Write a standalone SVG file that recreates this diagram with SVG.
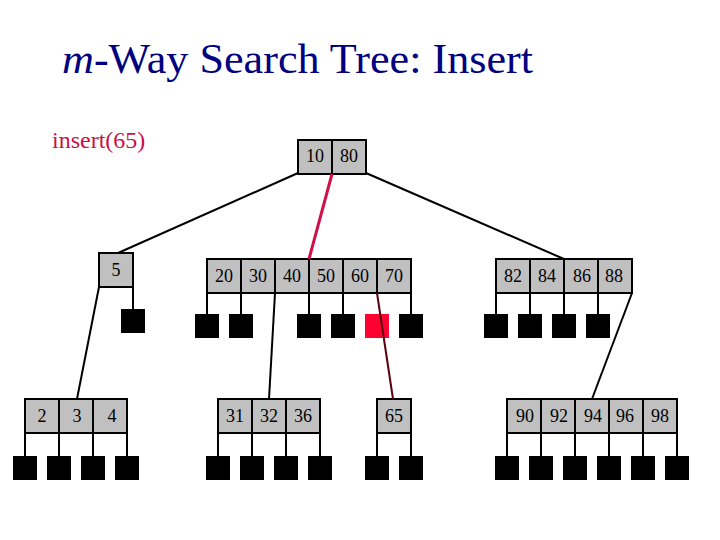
<svg xmlns="http://www.w3.org/2000/svg" width="720" height="540" viewBox="0 0 720 540">
<style>
.cell{fill:#c0c0c0;stroke:#000;stroke-width:2}
.ext{fill:#000}
.ext-red{fill:#ff0033}
.lbl{font-family:"Liberation Serif","Times New Roman",serif;font-size:18px;fill:#000;text-anchor:middle}
.edge{stroke:#000;stroke-width:2;fill:none}
.stub{stroke:#000;stroke-width:2}
</style>
<rect width="720" height="540" fill="#fff"/>
<text x="62" y="73" font-family="'Liberation Serif','Times New Roman',serif" font-size="43" fill="#000080" textLength="471" lengthAdjust="spacingAndGlyphs"><tspan font-style="italic">m</tspan>-Way Search Tree: Insert</text>
<text x="52" y="148" font-family="'Liberation Serif','Times New Roman',serif" font-size="24" fill="#c8104a">insert(65)</text>

<g id="node-root">
  <rect class="cell" x="298" y="140" width="34" height="34"/>
  <rect class="cell" x="332" y="140" width="34" height="34"/>
  <text class="lbl" x="315" y="162">10</text>
  <text class="lbl" x="349" y="162">80</text>
</g>

<g id="node-5">
  <rect class="cell" x="99" y="253" width="34" height="34"/>
  <text class="lbl" x="116" y="276">5</text>
</g>

<g id="node-mid">
  <rect class="cell" x="207" y="259" width="34" height="34"/>
  <rect class="cell" x="241" y="259" width="34" height="34"/>
  <rect class="cell" x="275" y="259" width="34" height="34"/>
  <rect class="cell" x="309" y="259" width="34" height="34"/>
  <rect class="cell" x="343" y="259" width="34" height="34"/>
  <rect class="cell" x="377" y="259" width="34" height="34"/>
  <text class="lbl" x="224" y="282">20</text>
  <text class="lbl" x="258" y="282">30</text>
  <text class="lbl" x="292" y="282">40</text>
  <text class="lbl" x="326" y="282">50</text>
  <text class="lbl" x="360" y="282">60</text>
  <text class="lbl" x="394" y="282">70</text>
</g>

<g id="node-right">
  <rect class="cell" x="496" y="259" width="34" height="34"/>
  <rect class="cell" x="530" y="259" width="34" height="34"/>
  <rect class="cell" x="564" y="259" width="34" height="34"/>
  <rect class="cell" x="598" y="259" width="34" height="34"/>
  <text class="lbl" x="513" y="282">82</text>
  <text class="lbl" x="547" y="282">84</text>
  <text class="lbl" x="582" y="282">86</text>
  <text class="lbl" x="614" y="282">88</text>
</g>

<g id="node-234">
  <rect class="cell" x="25" y="399" width="34" height="34"/>
  <rect class="cell" x="59" y="399" width="34" height="34"/>
  <rect class="cell" x="93" y="399" width="34" height="34"/>
  <text class="lbl" x="42" y="422">2</text>
  <text class="lbl" x="77" y="422">3</text>
  <text class="lbl" x="112" y="422">4</text>
</g>

<g id="node-313236">
  <rect class="cell" x="218" y="399" width="34" height="34"/>
  <rect class="cell" x="252" y="399" width="34" height="34"/>
  <rect class="cell" x="286" y="399" width="34" height="34"/>
  <text class="lbl" x="235" y="422">31</text>
  <text class="lbl" x="269" y="422">32</text>
  <text class="lbl" x="303" y="422">36</text>
</g>

<g id="node-65">
  <rect class="cell" x="377" y="399" width="34" height="34"/>
  <text class="lbl" x="394" y="422">65</text>
</g>

<g id="node-9098">
  <rect class="cell" x="507" y="399" width="34" height="34"/>
  <rect class="cell" x="541" y="399" width="34" height="34"/>
  <rect class="cell" x="575" y="399" width="34" height="34"/>
  <rect class="cell" x="609" y="399" width="34" height="34"/>
  <rect class="cell" x="643" y="399" width="34" height="34"/>
  <text class="lbl" x="525" y="422">90</text>
  <text class="lbl" x="559" y="422">92</text>
  <text class="lbl" x="593" y="422">94</text>
  <text class="lbl" x="625" y="422">96</text>
  <text class="lbl" x="660" y="422">98</text>
</g>

<g id="ext-node5">
  <rect class="ext" x="121" y="309" width="24" height="24"/>
</g>
<g id="ext-mid">
  <rect class="ext" x="195" y="314" width="24" height="24"/>
  <rect class="ext" x="229" y="314" width="24" height="24"/>
  <rect class="ext" x="297" y="314" width="24" height="24"/>
  <rect class="ext" x="331" y="314" width="24" height="24"/>
  <rect class="ext-red" x="365" y="314" width="24" height="24"/>
  <rect class="ext" x="399" y="314" width="24" height="24"/>
</g>
<g id="ext-right">
  <rect class="ext" x="484" y="314" width="24" height="24"/>
  <rect class="ext" x="518" y="314" width="24" height="24"/>
  <rect class="ext" x="552" y="314" width="24" height="24"/>
  <rect class="ext" x="586" y="314" width="24" height="24"/>
</g>
<g id="ext-234">
  <rect class="ext" x="13" y="456" width="24" height="24"/>
  <rect class="ext" x="47" y="456" width="24" height="24"/>
  <rect class="ext" x="81" y="456" width="24" height="24"/>
  <rect class="ext" x="115" y="456" width="24" height="24"/>
</g>
<g id="ext-313236">
  <rect class="ext" x="206" y="456" width="24" height="24"/>
  <rect class="ext" x="240" y="456" width="24" height="24"/>
  <rect class="ext" x="274" y="456" width="24" height="24"/>
  <rect class="ext" x="308" y="456" width="24" height="24"/>
</g>
<g id="ext-65">
  <rect class="ext" x="365" y="456" width="24" height="24"/>
  <rect class="ext" x="399" y="456" width="24" height="24"/>
</g>
<g id="ext-9098">
  <rect class="ext" x="495" y="456" width="24" height="24"/>
  <rect class="ext" x="529" y="456" width="24" height="24"/>
  <rect class="ext" x="563" y="456" width="24" height="24"/>
  <rect class="ext" x="597" y="456" width="24" height="24"/>
  <rect class="ext" x="631" y="456" width="24" height="24"/>
  <rect class="ext" x="665" y="456" width="24" height="24"/>
</g>

<g id="connectors">
  <line class="edge" x1="298" y1="173" x2="118" y2="253"/>
  <line x1="332" y1="174" x2="309" y2="259" stroke="#d0104a" stroke-width="3"/>
  <line class="edge" x1="366" y1="173" x2="564" y2="259"/>
  <line class="edge" x1="99" y1="287" x2="77" y2="399"/>
  <line class="edge" x1="275" y1="293" x2="269" y2="399"/>
  <line x1="377" y1="293" x2="393" y2="399" stroke="#5a0010" stroke-width="2"/>
  <line class="edge" x1="632" y1="293" x2="592" y2="399"/>
  <line class="stub" x1="133" y1="287" x2="133" y2="309"/>
  <line class="stub" x1="207" y1="293" x2="207" y2="314"/>
  <line class="stub" x1="241" y1="293" x2="241" y2="314"/>
  <line class="stub" x1="309" y1="293" x2="309" y2="314"/>
  <line class="stub" x1="343" y1="293" x2="343" y2="314"/>
  <line class="stub" x1="411" y1="293" x2="411" y2="314"/>
  <line class="stub" x1="496" y1="293" x2="496" y2="314"/>
  <line class="stub" x1="530" y1="293" x2="530" y2="314"/>
  <line class="stub" x1="564" y1="293" x2="564" y2="314"/>
  <line class="stub" x1="598" y1="293" x2="598" y2="314"/>
  <line class="stub" x1="25" y1="433" x2="25" y2="456"/>
  <line class="stub" x1="59" y1="433" x2="59" y2="456"/>
  <line class="stub" x1="93" y1="433" x2="93" y2="456"/>
  <line class="stub" x1="127" y1="433" x2="127" y2="456"/>
  <line class="stub" x1="218" y1="433" x2="218" y2="456"/>
  <line class="stub" x1="252" y1="433" x2="252" y2="456"/>
  <line class="stub" x1="286" y1="433" x2="286" y2="456"/>
  <line class="stub" x1="320" y1="433" x2="320" y2="456"/>
  <line class="stub" x1="377" y1="433" x2="377" y2="456"/>
  <line class="stub" x1="411" y1="433" x2="411" y2="456"/>
  <line class="stub" x1="507" y1="433" x2="507" y2="456"/>
  <line class="stub" x1="541" y1="433" x2="541" y2="456"/>
  <line class="stub" x1="575" y1="433" x2="575" y2="456"/>
  <line class="stub" x1="609" y1="433" x2="609" y2="456"/>
  <line class="stub" x1="643" y1="433" x2="643" y2="456"/>
  <line class="stub" x1="677" y1="433" x2="677" y2="456"/>
</g>
</svg>
